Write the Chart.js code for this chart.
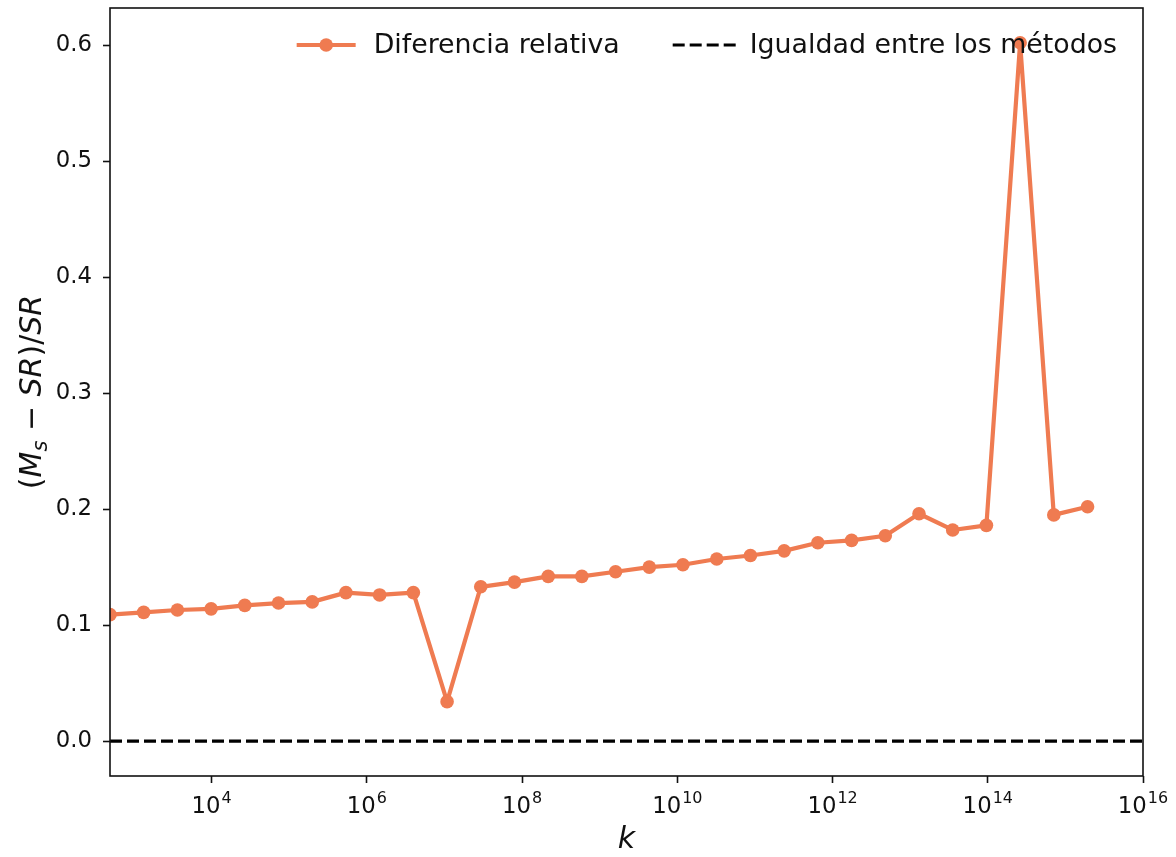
<!DOCTYPE html>
<html>
<head>
<meta charset="utf-8">
<script src="https://cdn.jsdelivr.net/npm/chart.js@4.4.1/dist/chart.umd.min.js"></script>
<style>
  html, body { margin: 0; padding: 0; background: #ffffff; }
  canvas { display: block; }
</style>
</head>
<body>
<canvas id="chart" width="1176" height="857"></canvas>
<script>
// Sample sizes k (log axis) and the relative difference (M_s - SR)/SR at each k
const kValues = [
  490, 1330, 3620, 9840, 26700, 72700, 197700, 537000,
  1.46e6, 3.97e6, 1.08e7, 2.93e7, 7.97e7, 2.17e8, 5.89e8,
  1.60e9, 4.35e9, 1.18e10, 3.22e10, 8.75e10, 2.38e11, 6.46e11,
  1.76e12, 4.78e12, 1.30e13, 3.53e13, 9.60e13, 2.61e14, 7.09e14, 1.93e15
];
const relDiff = [
  0.109, 0.111, 0.113, 0.114, 0.117, 0.119, 0.120, 0.128,
  0.126, 0.128, 0.034, 0.133, 0.137, 0.142, 0.142,
  0.146, 0.150, 0.152, 0.157, 0.160, 0.164, 0.171,
  0.173, 0.177, 0.196, 0.182, 0.186, 0.602, 0.195, 0.202
];
// Reference level: both methods agree
const equalityLevel = 0;

// Axis limits and tick positions
const xLimits = [490, 1e16];
const yLimits = [-0.0301, 0.632];
const xTickPowers = [4, 6, 8, 10, 12, 14, 16];
const yTickValues = [0, 0.1, 0.2, 0.3, 0.4, 0.5, 0.6];

const seriesLabels = ['Diferencia relativa', 'Igualdad entre los métodos'];
const xTitle = 'k';

const FONT = "'DejaVu Sans', sans-serif";
const INK = '#111111';
const ORANGE = '#ef7b51';
const TICK_SIZE = 22.8;
const LEGEND_SIZE = 26.8;

// Frame around the plotting area
const framePlugin = {
  id: 'frame',
  afterDatasetsDraw(chart) {
    const { ctx, chartArea: a } = chart;
    ctx.save();
    ctx.strokeStyle = INK;
    ctx.lineWidth = 1.6;
    ctx.strokeRect(a.left, a.top, a.right - a.left, a.bottom - a.top);
    ctx.restore();
  }
};

// Power-of-ten tick labels (10 with raised exponent)
const powerLabelsPlugin = {
  id: 'powerLabels',
  afterDraw(chart) {
    const { ctx, chartArea: a } = chart;
    const xs = chart.scales.x;
    const baseFont = TICK_SIZE + 'px ' + FONT;
    const expFont = (TICK_SIZE * 0.7) + 'px ' + FONT;
    ctx.save();
    ctx.fillStyle = INK;
    ctx.textBaseline = 'alphabetic';
    ctx.textAlign = 'left';
    xs.ticks.forEach(t => {
      const px = xs.getPixelForValue(t.value);
      const exp = String(Math.round(Math.log10(t.value)));
      ctx.font = baseFont;
      const wBase = ctx.measureText('10').width;
      ctx.font = expFont;
      const wExp = ctx.measureText(exp).width;
      const start = px - (wBase + wExp + 1) / 2;
      ctx.font = baseFont;
      ctx.fillText('10', start, a.bottom + 37);
      ctx.font = expFont;
      ctx.fillText(exp, start + wBase + 1, a.bottom + 27);
    });
    ctx.restore();
  }
};

// Axis titles: italic k and the rotated (M_s − SR)/SR expression
const axisTitlesPlugin = {
  id: 'axisTitles',
  afterDraw(chart) {
    const { ctx, chartArea: a } = chart;
    ctx.save();
    ctx.fillStyle = INK;
    ctx.textBaseline = 'alphabetic';
    ctx.textAlign = 'center';
    ctx.font = 'italic 30px ' + FONT;
    ctx.fillText(xTitle, (a.left + a.right) / 2, a.bottom + 72);

    const size = 30;
    const parts = [
      { t: '(', f: size + 'px ' + FONT, dy: 0 },
      { t: 'M', f: 'italic ' + size + 'px ' + FONT, dy: 0 },
      { t: 's', f: 'italic ' + (size * 0.7) + 'px ' + FONT, dy: 6 },
      { t: ' \u2212 ', f: size + 'px ' + FONT, dy: 0 },
      { t: 'SR', f: 'italic ' + size + 'px ' + FONT, dy: 0 },
      { t: ')/', f: size + 'px ' + FONT, dy: 0 },
      { t: 'SR', f: 'italic ' + size + 'px ' + FONT, dy: 0 }
    ];
    let total = 0;
    parts.forEach(p => { ctx.font = p.f; p.w = ctx.measureText(p.t).width; total += p.w; });
    ctx.translate(41, (a.top + a.bottom) / 2);
    ctx.rotate(-Math.PI / 2);
    ctx.textAlign = 'left';
    let x = -total / 2;
    parts.forEach(p => {
      ctx.font = p.f;
      ctx.fillText(p.t, x, p.dy);
      x += p.w;
    });
    ctx.restore();
  }
};

// Two-column legend in the upper right, without a box
const legendPlugin = {
  id: 'inlineLegend',
  afterDraw(chart) {
    const { ctx, chartArea: a } = chart;
    const dsLine = chart.data.datasets[0];
    const dsRef = chart.data.datasets[1];
    const y = a.top + 37;
    ctx.save();
    ctx.font = LEGEND_SIZE + 'px ' + FONT;
    ctx.fillStyle = INK;
    ctx.textBaseline = 'middle';
    ctx.textAlign = 'left';
    const w1 = ctx.measureText(dsLine.label).width;
    const w2 = ctx.measureText(dsRef.label).width;

    const text2Start = a.right - 26 - w2;
    const h2End = text2Start - 14;
    const h2Start = h2End - 63;
    const text1End = h2Start - 53;
    const text1Start = text1End - w1;
    const h1End = text1Start - 18;
    const h1Start = h1End - 59;

    ctx.fillText(dsLine.label, text1Start, y + 1);
    ctx.fillText(dsRef.label, text2Start, y + 1);

    ctx.lineCap = 'butt';
    ctx.strokeStyle = dsLine.borderColor;
    ctx.lineWidth = dsLine.borderWidth;
    ctx.beginPath();
    ctx.moveTo(h1Start, y);
    ctx.lineTo(h1End, y);
    ctx.stroke();
    ctx.fillStyle = dsLine.pointBackgroundColor;
    ctx.beginPath();
    ctx.arc((h1Start + h1End) / 2, y, dsLine.pointRadius, 0, Math.PI * 2);
    ctx.fill();

    ctx.strokeStyle = dsRef.borderColor;
    ctx.lineWidth = dsRef.borderWidth;
    ctx.setLineDash(dsRef.borderDash);
    ctx.beginPath();
    ctx.moveTo(h2Start, y);
    ctx.lineTo(h2End, y);
    ctx.stroke();
    ctx.restore();
  }
};

new Chart(document.getElementById('chart'), {
  type: 'line',
  data: {
    datasets: [
      {
        label: seriesLabels[0],
        data: kValues.map((k, i) => ({ x: k, y: relDiff[i] })),
        borderColor: ORANGE,
        backgroundColor: ORANGE,
        pointBackgroundColor: ORANGE,
        pointBorderWidth: 0,
        pointRadius: 6.8,
        borderWidth: 4.2,
        borderJoinStyle: 'round',
        tension: 0,
        clip: 0,
        order: 1
      },
      {
        label: seriesLabels[1],
        data: xLimits.map(k => ({ x: k, y: equalityLevel })),
        borderColor: '#000000',
        borderWidth: 3.2,
        borderDash: [12, 5],
        pointRadius: 0,
        tension: 0,
        clip: 0,
        order: 2
      }
    ]
  },
  options: {
    responsive: false,
    animation: false,
    devicePixelRatio: 1,
    layout: { padding: { left: 0, top: 8, right: 33, bottom: 0 } },
    plugins: {
      legend: { display: false },
      tooltip: { enabled: false }
    },
    scales: {
      x: {
        type: 'logarithmic',
        position: 'bottom',
        min: xLimits[0],
        max: xLimits[1],
        bounds: 'data',
        border: { display: false },
        grid: {
          drawOnChartArea: false,
          drawTicks: true,
          tickLength: 7,
          tickWidth: 1.6,
          tickColor: INK
        },
        ticks: { display: false },
        afterBuildTicks(scale) {
          scale.ticks = xTickPowers.map(p => ({ value: Math.pow(10, p), major: true }));
        },
        afterFit(scale) {
          scale.height = 81;
          scale.paddingLeft = 0;
          scale.paddingRight = 0;
        }
      },
      y: {
        type: 'linear',
        position: 'left',
        min: yLimits[0],
        max: yLimits[1],
        bounds: 'data',
        border: { display: false },
        grid: {
          drawOnChartArea: false,
          drawTicks: true,
          tickLength: 7,
          tickWidth: 1.6,
          tickColor: INK
        },
        ticks: {
          color: INK,
          padding: 11,
          font: { family: FONT, size: TICK_SIZE },
          callback: v => Number(v).toFixed(1)
        },
        afterBuildTicks(scale) {
          scale.ticks = yTickValues.map(v => ({ value: v }));
        },
        afterFit(scale) {
          scale.width = 110;
          scale.paddingTop = 0;
          scale.paddingBottom = 0;
        }
      }
    }
  },
  plugins: [framePlugin, powerLabelsPlugin, axisTitlesPlugin, legendPlugin]
});
</script>
</body>
</html>
